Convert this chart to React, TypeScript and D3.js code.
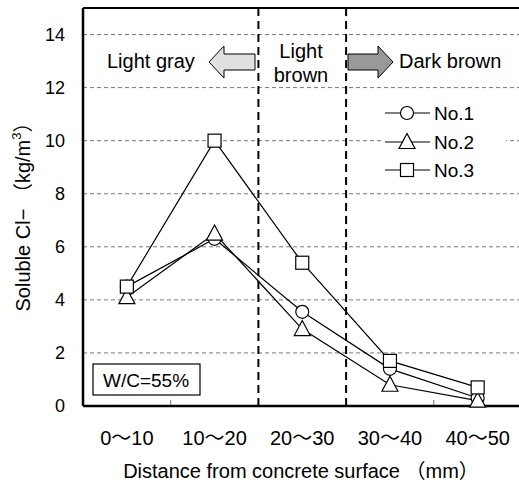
import React from "react";
import * as d3 from "d3";

const categories = ["0～10", "10～20", "20～30", "30～40", "40～50"];
const seriesNames = ["No.1", "No.2", "No.3"];
const no1 = [4.5, 6.3, 3.55, 1.4, 0.3];
const no2 = [4.1, 6.5, 2.9, 0.8, 0.2];
const no3 = [4.5, 10.0, 5.4, 1.7, 0.7];
const yTicks = [0, 2, 4, 6, 8, 10, 12, 14];

const W = 519, H = 483;
const left = 83, right = 521.5, top = 8, bottom = 406;
const FONT = "'Liberation Sans', 'Noto Sans CJK JP', sans-serif";

export default function App() {
  const x = d3.scaleBand<string>().domain(categories).range([left, right]);
  const y = d3.scaleLinear().domain([0, 15]).range([bottom, top]);
  const cx = (c: string) => (x(c) as number) + x.bandwidth() / 2;
  const line = d3.line<number>().x((_, i) => cx(categories[i])).y((v) => y(v));
  const allSeries = [no1, no2, no3];

  const marker = (k: number, px: number, py: number, key?: string) => {
    if (k === 0) return <circle key={key} cx={px} cy={py} r={6.5} fill="white" stroke="black" strokeWidth={1.2} />;
    if (k === 1) {
      return <path key={key} d={`M${px},${py - 8.5}L${px + 8},${py + 6.5}L${px - 8},${py + 6.5}Z`} fill="white" stroke="black" strokeWidth={1.2} />;
    }
    return <rect key={key} x={px - 6.5} y={py - 6.5} width={13} height={13} fill="white" stroke="black" strokeWidth={1.2} />;
  };

  const bounds = [1, 4].map((i) => x(categories[i]) as number);
  const sepLines = [2, 3].map((i) => x(categories[i]) as number);
  const legendY = [113, 142, 170];

  return (
    <svg width={W} height={H} style={{ position: "absolute", left: 0, top: 0, background: "white" }} fontFamily={FONT}>
      <rect width={W} height={H} fill="white" />
      {yTicks.filter((t) => t > 0).map((t) => (
        <line key={t} x1={left} x2={W} y1={y(t)} y2={y(t)} stroke="#777" strokeWidth={1} strokeDasharray="4,3" />
      ))}
      {sepLines.map((sx, i) => (
        <line key={i} x1={sx} x2={sx} y1={top} y2={bottom} stroke="black" strokeWidth={2} strokeDasharray="8,5" />
      ))}
      {bounds.map((bx, i) => (
        <line key={i} x1={bx} x2={bx} y1={bottom} y2={bottom - 6} stroke="#777" strokeWidth={1} />
      ))}
      <line x1={left} x2={W} y1={top} y2={top} stroke="black" strokeWidth={2} />
      <line x1={left} x2={left} y1={top} y2={bottom} stroke="black" strokeWidth={2.5} />
      <line x1={left} x2={W} y1={bottom} y2={bottom} stroke="black" strokeWidth={2.5} />

      {yTicks.map((t) => (
        <text key={t} x={65} y={y(t)} dy="0.36em" textAnchor="end" fontSize={18}>{t}</text>
      ))}
      {categories.map((c) => (
        <text key={c} x={cx(c)} y={445} textAnchor="middle" fontSize={20}>{c}</text>
      ))}
      <text x={301} y={478} textAnchor="middle" fontSize={20}>Distance from concrete surface （mm）</text>
      <text transform="translate(30,212) rotate(-90)" textAnchor="middle" fontSize={20}>
        Soluble Cl− （kg/m<tspan dy={-9} fontSize={13}>3</tspan><tspan dy={9}>）</tspan>
      </text>

      {allSeries.map((s, k) => (
        <path key={k} d={line(s) as string} fill="none" stroke="black" strokeWidth={1.2} />
      ))}
      {allSeries.map((s, k) => s.map((v, i) => marker(k, cx(categories[i]), y(v), `${k}-${i}`)))}

      {/* arrows */}
      <path d="M255,54 L224,54 L224,46 L209,62 L224,78 L224,70 L255,70 Z" fill="#e0e0e0" stroke="black" strokeWidth={1} />
      <path d="M348,54 L378,54 L378,46 L393,62 L378,78 L378,70 L348,70 Z" fill="#999" stroke="black" strokeWidth={1} />
      <text x={107} y={68} fontSize={20}>Light gray</text>
      <text x={301} y={58} textAnchor="middle" fontSize={20}>Light</text>
      <text x={301} y={82} textAnchor="middle" fontSize={20}>brown</text>
      <text x={399} y={68} fontSize={20}>Dark brown</text>

      {/* legend */}
      <rect x={384} y={100} width={122} height={82} fill="white" />
      {seriesNames.map((n, k) => {
        const ly = legendY[k];
        return (
          <g key={n}>
            <line x1={385} x2={430} y1={ly} y2={ly} stroke="black" strokeWidth={1.2} />
            {marker(k, 407, ly)}
            <text x={434} y={ly} dy="0.36em" fontSize={19}>{n}</text>
          </g>
        );
      })}

      <rect x={93} y={364} width={107} height={31} fill="white" stroke="black" strokeWidth={1.2} />
      <text x={146} y={380} dy="0.36em" textAnchor="middle" fontSize={19}>W/C=55%</text>
    </svg>
  );
}
